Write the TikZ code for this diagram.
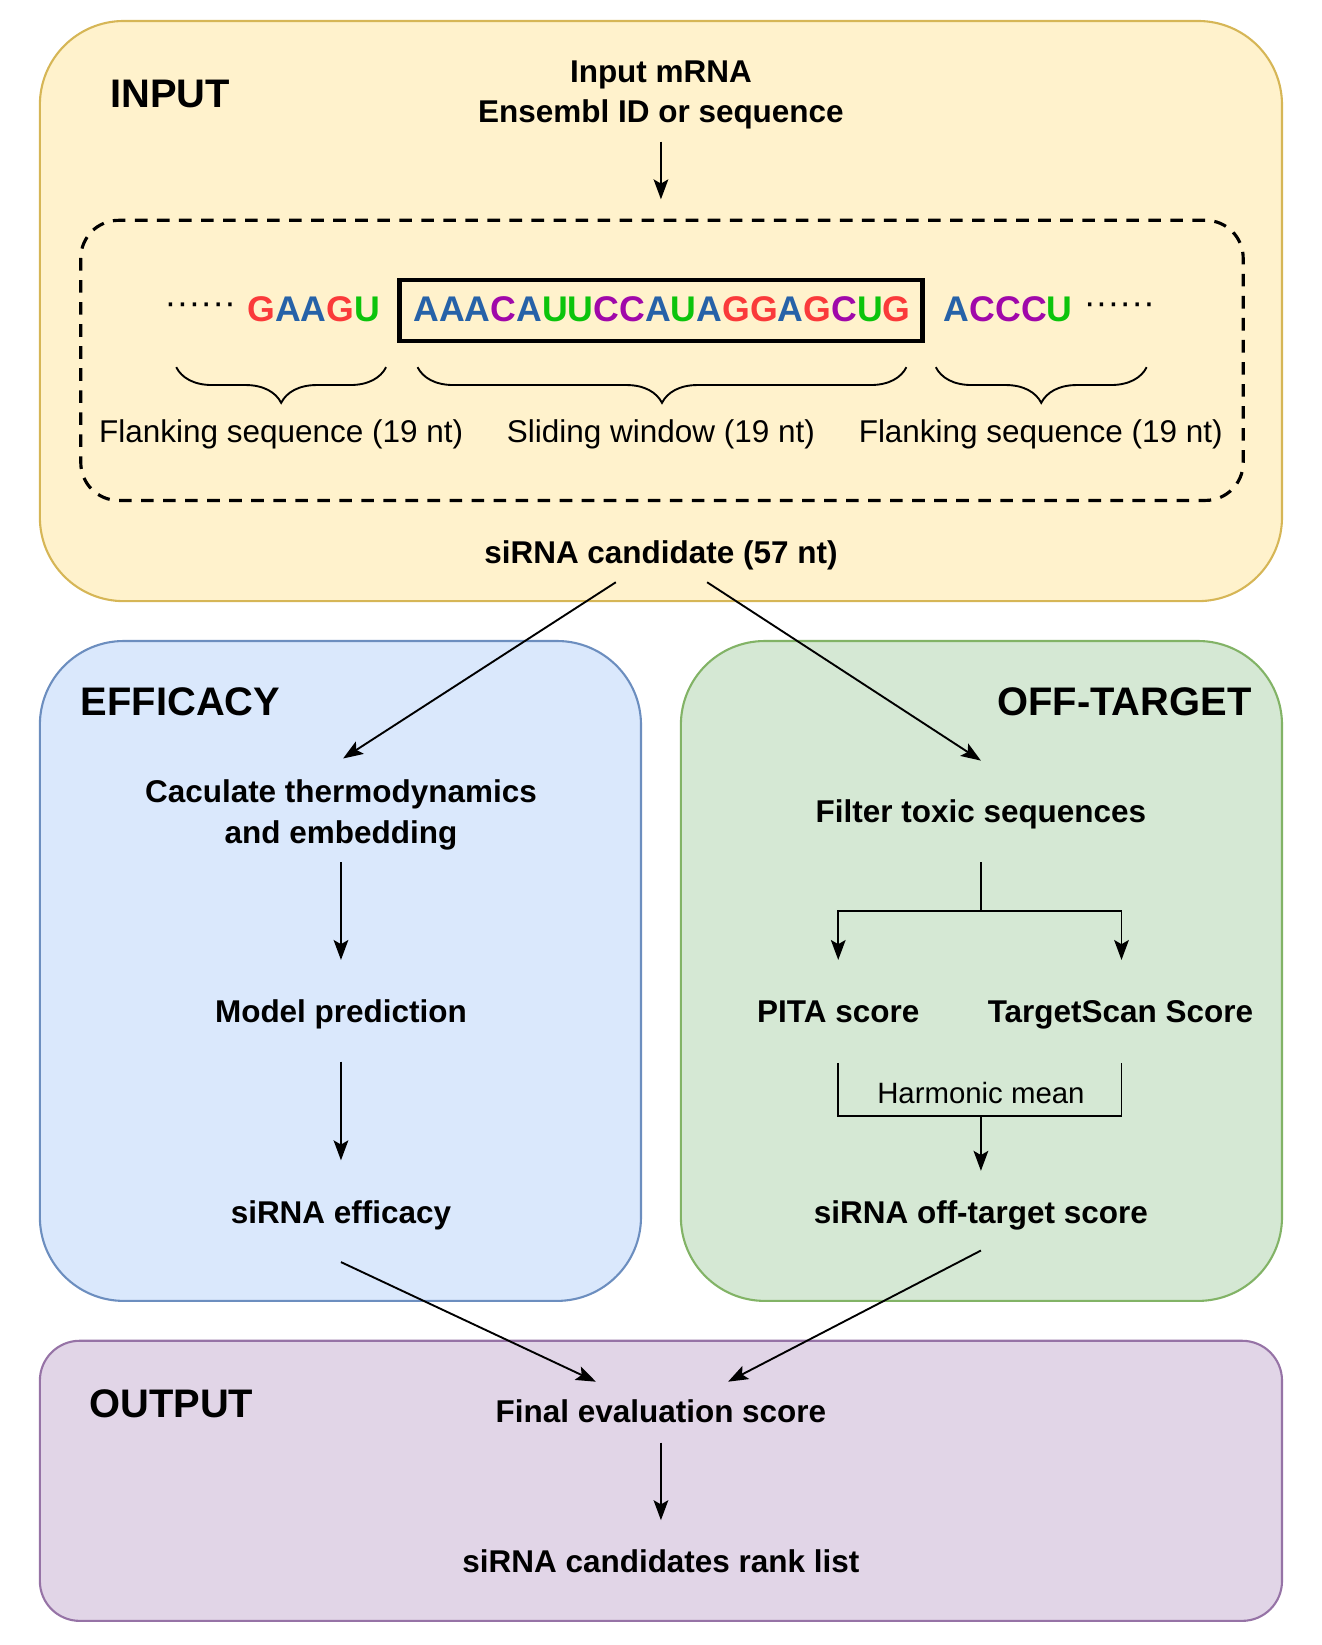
\documentclass[tikz,border=0pt]{standalone}
\usepackage{fontspec}
\setmainfont{Liberation Sans}
\usetikzlibrary{arrows.meta,decorations.pathreplacing}
\definecolor{inFill}{HTML}{FFF2CC}\definecolor{inLine}{HTML}{D6B656}
\definecolor{efFill}{HTML}{DAE8FC}\definecolor{efLine}{HTML}{6C8EBF}
\definecolor{otFill}{HTML}{D5E8D4}\definecolor{otLine}{HTML}{82B366}
\definecolor{ouFill}{HTML}{E1D5E7}\definecolor{ouLine}{HTML}{9673A6}
\definecolor{ntA}{RGB}{38,98,168}
\definecolor{ntC}{RGB}{160,8,170}
\definecolor{ntG}{RGB}{250,58,58}
\definecolor{ntU}{RGB}{12,196,12}
\newcommand\nucA{\textcolor{ntA}{A}}
\newcommand\nucC{\textcolor{ntC}{C}}
\newcommand\nucG{\textcolor{ntG}{G}}
\newcommand\nucU{\textcolor{ntU}{U}}
\begin{document}
\begin{tikzpicture}[x=1pt,y=-1pt,
  txt/.style={font=\bfseries\fontsize{30}{39}\selectfont, align=center, inner sep=0pt, anchor=base},
  ttl/.style={font=\bfseries\fontsize{38}{46}\selectfont, inner sep=0pt, anchor=base west},
  lbl/.style={font=\fontsize{30}{36}\selectfont, inner sep=0pt, anchor=base},
  seq/.style={font=\bfseries\fontsize{34}{40}\selectfont, inner sep=0pt, anchor=base},
  arr/.style={-{Stealth[length=19pt,width=14pt,inset=4pt]}, line width=1.8pt},
  ln/.style={line width=1.8pt},
  panel/.style={line width=2pt}]
\useasboundingbox (0,0) rectangle (1260,1568);
% panels
\draw[panel, draw=inLine, fill=inFill, rounded corners=80pt] (38,20) rectangle (1222,573);
\draw[panel, draw=efLine, fill=efFill, rounded corners=80pt] (38,611) rectangle (611,1240);
\draw[panel, draw=otLine, fill=otFill, rounded corners=80pt] (649,611) rectangle (1222,1240);
\draw[panel, draw=ouLine, fill=ouFill, rounded corners=38pt] (38,1278) rectangle (1222,1545);
% dashed box
\draw[line width=3pt, dash pattern=on 12pt off 9pt, rounded corners=36pt] (77,210) rectangle (1185,477);
% titles
\node[ttl] (tIn) at (105,102) {INPUT};
\node[ttl] (tEf) at (77,682) {EFFICACY};
\node[ttl, anchor=base east] (tOt) at (1193,682) {OFF-TARGET};
\node[ttl] (tOu) at (85,1351) {OUTPUT};
% input
\node[txt] (mrna1) at (630,79) {Input mRNA};
\node[txt] (mrna2) at (630,117) {Ensembl ID or sequence};
\coordinate (mrnaA) at (630,135);
\coordinate (mrnaB) at (630,190);
\draw[arr] (mrnaA) -- (mrnaB);
% sequence row
\node[seq, font=\fontsize{34}{40}\selectfont] (dotsL) at (191,300) {······};
\node[seq] (flL) at (299,306) {\nucG\nucA\nucA\nucG\nucU};
\node[draw, line width=4.5pt, minimum width=498pt, minimum height=58pt, inner sep=0pt] (win) at (630,296) {};
\node[seq] (winT) at (631,306) {\nucA\nucA\nucA\nucC\nucA\nucU\nucU\nucC\nucC\nucA\nucU\nucA\nucG\nucG\nucA\nucG\nucC\nucU\nucG};
\node[seq] (flR) at (961,306) {\nucA\nucC\nucC\nucC\nucU};
\node[seq, font=\fontsize{34}{40}\selectfont] (dotsR) at (1067,300) {······};
% braces
\coordinate (b1a) at (368,350); \coordinate (b1b) at (168,350);
\coordinate (b2a) at (864,350); \coordinate (b2b) at (398,350);
\coordinate (b3a) at (1093,350); \coordinate (b3b) at (892,350);
\begin{scope}[decoration={brace, amplitude=34pt}, line width=1.8pt]
\draw[decorate] (b1a) -- (b1b);
\draw[decorate] (b2a) -- (b2b);
\draw[decorate] (b3a) -- (b3b);
\end{scope}
\node[lbl] (lbl1) at (268,422) {Flanking sequence (19 nt)};
\node[lbl] (lbl2) at (630,422) {Sliding window (19 nt)};
\node[lbl] (lbl3) at (992,422) {Flanking sequence (19 nt)};
\node[txt] (cand) at (630,537) {siRNA candidate (57 nt)};
% arrows to panels
\coordinate (candL) at (587,555); \coordinate (calcT) at (327,723);
\coordinate (candR) at (674,555); \coordinate (filtT) at (935,725);
\draw[arr] (candL) -- (calcT);
\draw[arr] (candR) -- (filtT);
% efficacy
\node[txt] (calc1) at (325,765) {Caculate thermodynamics};
\node[txt] (calc2) at (325,804) {and embedding};
\node[txt] (model) at (325,975) {Model prediction};
\node[txt] (eff) at (325,1166) {siRNA efficacy};
\coordinate (c1) at (325,822); \coordinate (c2) at (325,915);
\coordinate (c3) at (325,1012); \coordinate (c4) at (325,1106);
\draw[arr] (c1) -- (c2);
\draw[arr] (c3) -- (c4);
% off-target
\node[txt] (filt) at (935,784) {Filter toxic sequences};
\node[txt] (pita) at (799,975) {PITA score};
\node[txt] (ts) at (1068,975) {TargetScan Score};
\node[txt] (offs) at (935,1166) {siRNA off-target score};
\coordinate (f1) at (935,822); \coordinate (f2) at (935,868);
\coordinate (fl) at (799,868); \coordinate (fr) at (1069,868);
\coordinate (fl2) at (799,915); \coordinate (fr2) at (1069,915);
\draw[ln] (f1) -- (f2);
\draw[arr] (f2) -- (fl) -- (fl2);
\draw[arr] (f2) -- (fr) -- (fr2);
\coordinate (h1) at (799,1013); \coordinate (h2) at (1069,1013);
\coordinate (h3) at (799,1064); \coordinate (h4) at (1069,1064);
\coordinate (hm) at (935,1064); \coordinate (hb) at (935,1116);
\draw[ln] (h1) -- (h3) -- (h4) -- (h2);
\draw[arr] (hm) -- (hb);
\node[lbl, font=\fontsize{28}{34}\selectfont] (harm) at (935,1052) {Harmonic mean};
% output
\coordinate (e1) at (325,1203); \coordinate (e2) at (568,1317);
\coordinate (o1) at (935,1192); \coordinate (o2) at (694,1317);
\draw[arr] (e1) -- (e2);
\draw[arr] (o1) -- (o2);
\node[txt] (final) at (630,1356) {Final evaluation score};
\node[txt] (rank) at (630,1499) {siRNA candidates rank list};
\coordinate (r1) at (630,1375); \coordinate (r2) at (630,1449);
\draw[arr] (r1) -- (r2);
\end{tikzpicture}
\end{document}
